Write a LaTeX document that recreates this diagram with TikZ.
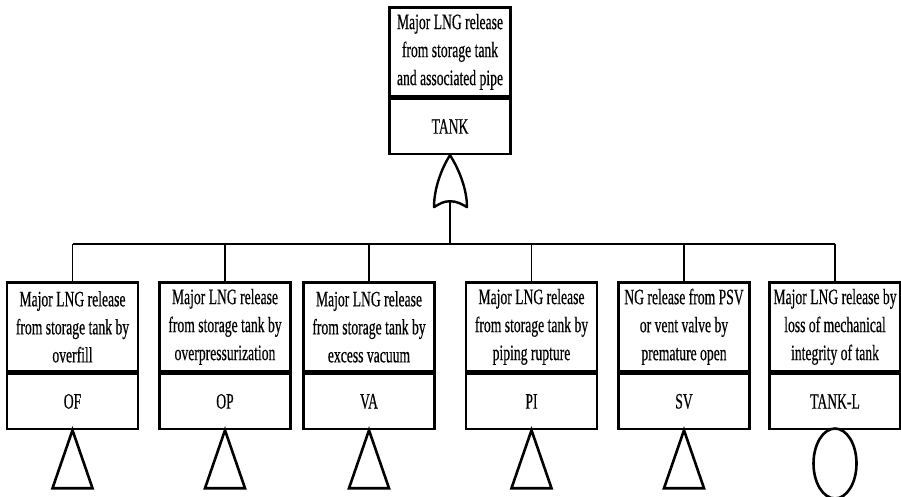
\documentclass[tikz,border=0pt]{standalone}
\usepackage{fontspec}
\setmainfont{Liberation Serif}[FakeStretch=0.62,FakeBold=0.4]
\usetikzlibrary{positioning,shapes.geometric}
\tikzset{
  evt/.style={rectangle, draw=black, line width=2.6pt, fill=white,
              minimum width=131pt, minimum height=89pt, inner sep=0pt,
              align=center, anchor=north, font=\fontsize{22}{28}\selectfont},
  topevt/.style={evt, minimum width=121pt},
  code/.style={rectangle, draw=black, line width=2.6pt, fill=white,
               minimum width=131pt, minimum height=55pt, inner sep=0pt,
               align=center, font=\fontsize{22}{26}\selectfont},
  topcode/.style={code, minimum width=121pt},
  conn/.style={draw=black, line width=1.5pt},
  bus/.style={draw=black, line width=2pt},
  gate/.style={draw=black, line width=2.4pt, line join=round},
  xfer/.style={draw=black, line width=2.6pt, line join=miter},
  und/.style={ellipse, draw=black, line width=2.6pt, minimum width=43pt,
              minimum height=70pt, inner sep=0pt, anchor=north},
}
\begin{document}
\begin{tikzpicture}[x=1pt,y=1pt]
\useasboundingbox (0,0) rectangle (901,-496);

% ===================== TOP EVENT =====================
\node[topevt] (TANKd) at (450,-6)
  {Major LNG release\\from storage tank\\and associated pipe};
\node[topcode, below=0pt of TANKd] (TANK) {TANK};

% OR gate under the top event
\draw[gate] (TANK.south) .. controls +(-9,-14) and +(0,18) .. ++(-16,-52)
  .. controls +(5,3) and +(-7,0) .. ++(16,6) coordinate (G)
  .. controls +(7,0) and +(-5,3) .. ++(17,-6)
  .. controls +(0,18) and +(9,-14) .. (TANK.south);

% ===================== INTERMEDIATE EVENTS =====================
\node[evt] (OFd) at (72.5,-281)
  {Major LNG release\\from storage tank by\\overfill};
\node[code, below=0pt of OFd] (OF) {OF};

\node[evt] (OPd) at (225,-281)
  {Major LNG release\\from storage tank by\\overpressurization};
\node[code, below=0pt of OPd] (OP) {OP};

\node[evt] (VAd) at (369,-281)
  {Major LNG release\\from storage tank by\\excess vacuum};
\node[code, below=0pt of VAd] (VA) {VA};

\node[evt] (PId) at (531.5,-281)
  {Major LNG release\\from storage tank by\\piping rupture};
\node[code, below=0pt of PId] (PI) {PI};

\node[evt] (SVd) at (684,-281)
  {NG release from PSV\\or vent valve by\\premature open};
\node[code, below=0pt of SVd] (SV) {SV};

\node[evt] (TLd) at (835,-281)
  {Major LNG release by\\loss of mechanical\\integrity of tank};
\node[code, below=0pt of TLd] (TL) {TANK-L};

% ===================== CONNECTORS =====================
\coordinate (BUS) at (0,-244);
\draw[conn] (G) -- (G |- BUS);
\draw[bus] (OFd.north |- BUS) -- (TLd.north |- BUS);
\foreach \n in {OFd,OPd,VAd,PId,SVd,TLd}
  \draw[conn] (\n.north) -- (\n.north |- BUS);

% transfer triangles and undeveloped event
\foreach \n in {OF,OP,VA,PI,SV}
  \draw[xfer] (\n.south) -- ++(-20,-58) -- ++(40,0) -- cycle;
\node[und, yshift=3pt] (TLc) at (TL.south) {};

\end{tikzpicture}
\end{document}
